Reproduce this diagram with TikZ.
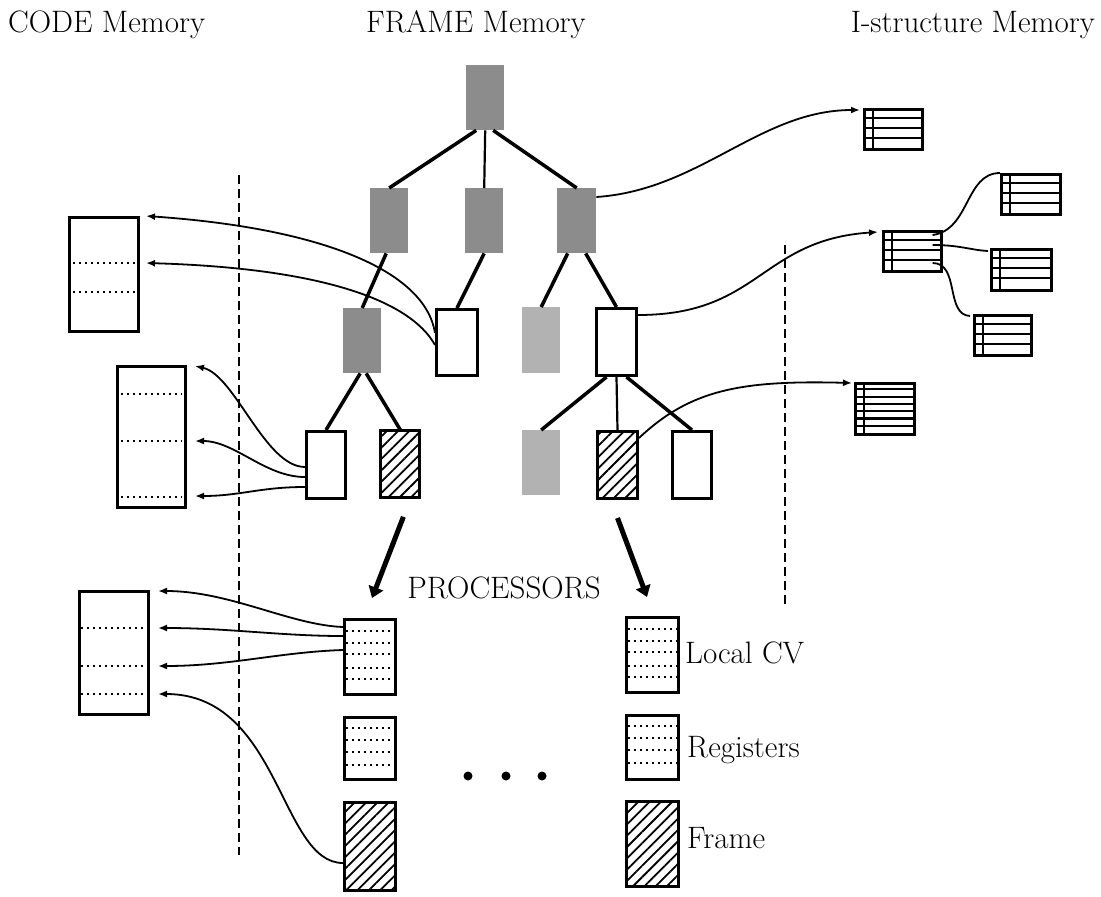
\documentclass[tikz,border=0pt]{standalone}
\usepackage{fontspec}
\usetikzlibrary{arrows.meta,patterns.meta,calc}
\newcommand\IStruct[7]{% name, x, y, width, height, number of inner lines, row height
  \node[wbox, line width=2.6pt, anchor=north west, minimum width=#4pt, minimum height=#5pt] (#1) at (#2,#3) {};
  \draw[line width=2.2pt] ($(#1.north west)+(10,0)$) -- ($(#1.south west)+(10,0)$);
  \foreach \k in {1,...,#6} \draw[line width=2.2pt] ($(#1.north west)+(0,\k*#7)$) -- ($(#1.north east)+(0,\k*#7)$);
}
\begin{document}
\begin{tikzpicture}[x=1pt,y=-1pt,
  lbl/.style={font=\fontsize{31}{33}\selectfont, inner sep=0},
  shadebox/.style={fill=black!45, inner sep=0, anchor=north west},
  lshadebox/.style={fill=black!30, inner sep=0, anchor=north west},
  wbox/.style={draw, line width=3pt, fill=white, inner sep=0, anchor=north west},
  hbox/.style={draw, line width=3pt, inner sep=0, anchor=north west, pattern={Lines[angle=45,distance=8pt,line width=1.8pt]}},
  tree/.style={line width=3.5pt},
  thintree/.style={line width=2.2pt},
  ptr/.style={line width=1.8pt, -{Latex[length=9pt,width=7pt]}},
  link/.style={line width=1.8pt},
  sepline/.style={line width=2pt, dash pattern=on 9pt off 5pt},
  dotrow/.style={line width=2pt, dash pattern=on 2pt off 4pt},
  bigarrow/.style={line width=5pt, -{Triangle[length=11pt,width=15pt]}},
]
\fill[white] (0,0) rectangle (1101,897);
\useasboundingbox (0,0) rectangle (1101,897);

% headers
\node[lbl, anchor=base west] (hcode) at (8,32) {CODE Memory};
\node[lbl, anchor=base] (hframe) at (476,32) {FRAME Memory};
\node[lbl, anchor=base east] (hist) at (1095,32) {I-structure Memory};

% separators
\draw[sepline] (239,175) -- (239,855);
\draw[sepline] (785,245) -- (785,605);

% frame tree
\node[shadebox, minimum width=38pt, minimum height=65pt] (rt) at (466,65) {};
\node[shadebox, minimum width=38pt, minimum height=65pt] (l2a) at (370,188) {};
\node[shadebox, minimum width=38pt, minimum height=65pt] (l2b) at (465,188) {};
\node[shadebox, minimum width=39pt, minimum height=65pt] (l2c) at (557,188) {};
\node[shadebox, minimum width=38pt, minimum height=65pt] (l3a) at (343,308) {};
\node[wbox, minimum width=41pt, minimum height=66pt] (A) at (435,308) {};
\node[lshadebox, minimum width=38pt, minimum height=66pt] (l3c) at (522,307) {};
\node[wbox, minimum width=40pt, minimum height=67pt] (B) at (595,307) {};
\node[wbox, minimum width=39pt, minimum height=67pt] (C) at (305,430) {};
\node[hbox, minimum width=39pt, minimum height=67pt] (D) at (380,430) {};
\node[lshadebox, minimum width=38pt, minimum height=65pt] (E) at (522,430) {};
\node[hbox, minimum width=40pt, minimum height=67pt] (F) at (596,430) {};
\node[wbox, minimum width=39pt, minimum height=67pt] (G) at (671,430) {};

\draw[tree] ($(rt.south)+(-9,0)$) -- (l2a.north);
\draw[thintree] (rt.south) -- (l2b.north);
\draw[tree] ($(rt.south)+(8,0)$) -- (l2c.north);
\draw[tree] ($(l2a.south)+(-3,0)$) -- (l3a.north);
\draw[tree] (l2b.south) -- (A.north);
\draw[tree] ($(l2c.south)+(-9,0)$) -- (l3c.north);
\draw[tree] ($(l2c.south)+(9,0)$) -- (B.north);
\draw[tree] ($(l3a.south)+(-2,0)$) -- (C.north);
\draw[tree] ($(l3a.south)+(4,0)$) -- (D.north);
\draw[tree] ($(B.south)+(-10,0)$) -- (E.north);
\draw[thintree] (B.south) -- (F.north);
\draw[tree] ($(B.south)+(10,0)$) -- (G.north);

% code memory boxes
\node[wbox, minimum width=69pt, minimum height=114pt] (cb1) at (68,216) {};
\draw[dotrow] ($(cb1.north west)+(5,47)$) -- ($(cb1.north east)+(-5,47)$);
\draw[dotrow] ($(cb1.north west)+(5,76)$) -- ($(cb1.north east)+(-5,76)$);
\node[wbox, minimum width=68pt, minimum height=141pt] (cb2) at (116,365) {};
\draw[dotrow] ($(cb2.north west)+(5,29)$) -- ($(cb2.north east)+(-5,29)$);
\draw[dotrow] ($(cb2.north west)+(5,76)$) -- ($(cb2.north east)+(-5,76)$);
\draw[dotrow] ($(cb2.north west)+(5,132)$) -- ($(cb2.north east)+(-5,132)$);
\node[wbox, minimum width=69pt, minimum height=123pt] (cb3) at (78,590) {};
\draw[dotrow] ($(cb3.north west)+(3,38)$) -- ($(cb3.north east)+(-5,38)$);
\draw[dotrow] ($(cb3.north west)+(3,76)$) -- ($(cb3.north east)+(-5,76)$);
\draw[dotrow] ($(cb3.north west)+(3,104)$) -- ($(cb3.north east)+(-5,104)$);

% pointers to code memory
\draw[ptr] ($(A.north west)+(0,25)$) .. controls (425,270) and (320,228) .. ($(cb1.north east)+(6,0)$);
\draw[ptr] ($(A.north west)+(0,37)$) .. controls (410,300) and (320,268) .. ($(cb1.north east)+(6,47)$);
\draw[ptr] ($(C.north west)+(0,37)$) .. controls (265,467) and (235,375) .. ($(cb2.north east)+(8,1)$);
\draw[ptr] ($(C.north west)+(0,47)$) .. controls (265,477) and (235,441) .. ($(cb2.north east)+(8,76)$);
\draw[ptr] ($(C.north west)+(0,57)$) .. controls (260,487) and (240,496) .. ($(cb2.north east)+(8,131)$);

% I-structure memory
\IStruct{is1}{863}{108}{58}{40}{3}{10}
\IStruct{is2}{882}{230}{58}{40}{3}{10}
\IStruct{is3}{1000}{173}{59}{40}{3}{10}
\IStruct{is4}{990}{248}{60}{41}{3}{10}
\IStruct{is5}{973}{314}{57}{40}{3}{10}
\IStruct{is6}{854}{382}{59}{51}{6}{7.3}

\draw[ptr] ($(l2c.north east)+(0,9)$) .. controls (700,190) and (760,110) .. ($(is1.north west)+(-3,2)$);
\draw[ptr] ($(B.north east)+(0,8)$) .. controls (760,315) and (760,240) .. ($(is2.north west)+(-4,2)$);
\draw[ptr] ($(F.north east)+(0,8)$) .. controls (690,390) and (740,380) .. ($(is6.north west)+(-2,1)$);
\draw[link] ($(is2.north east)+(-10,5)$) .. controls (970,230) and (965,173) .. (is3.north west);
\draw[link] ($(is2.north east)+(-10,15)$) .. controls (960,245) and (970,250) .. ($(is4.north west)+(-2,3)$);
\draw[link] ($(is2.north east)+(-10,33)$) .. controls (960,263) and (945,315) .. ($(is5.north west)+(-3,2)$);

% processors
\coordinate (pa) at (372,598);
\coordinate (pb) at (647,597);
\draw[bigarrow] ($(D.south)+(3,18)$) -- (pa);
\draw[bigarrow] ($(F.south)+(0,18)$) -- (pb);
\node[lbl, anchor=base] (proc) at (504,598) {PROCESSORS};

\node[wbox, minimum width=51pt, minimum height=75pt] (pl1) at (343,618) {};
\foreach \d in {13,25,36,50,61} \draw[dotrow] ($(pl1.north west)+(3,\d)$) -- ($(pl1.north east)+(-3,\d)$);
\node[wbox, minimum width=51pt, minimum height=62pt] (pl2) at (343,716) {};
\foreach \d in {12,24,36,49} \draw[dotrow] ($(pl2.north west)+(3,\d)$) -- ($(pl2.north east)+(-3,\d)$);
\node[hbox, minimum width=51pt, minimum height=88pt] (pl3) at (343,801) {};

\node[wbox, minimum width=52pt, minimum height=75pt] (pr1) at (625,616) {};
\foreach \d in {13,25,36,50,61} \draw[dotrow] ($(pr1.north west)+(3,\d)$) -- ($(pr1.north east)+(-3,\d)$);
\node[wbox, minimum width=52pt, minimum height=64pt] (pr2) at (625,714) {};
\foreach \d in {12,24,36,49} \draw[dotrow] ($(pr2.north west)+(3,\d)$) -- ($(pr2.north east)+(-3,\d)$);
\node[hbox, minimum width=52pt, minimum height=85pt] (pr3) at (625,800) {};

\node[lbl, anchor=base west] (tlcv) at (685,663) {Local CV};
\node[lbl, anchor=base west] (treg) at (687,757) {Registers};
\node[lbl, anchor=base west] (tfr) at (687,848) {Frame};

\node[circle, fill, inner sep=0, minimum size=9pt] (d1) at (468,776) {};
\node[circle, fill, inner sep=0, minimum size=9pt] (d2) at (506,776) {};
\node[circle, fill, inner sep=0, minimum size=9pt] (d3) at (542,776) {};

\draw[ptr] ($(pl1.north west)+(0,9)$) .. controls (290,625) and (230,591) .. ($(cb3.north east)+(8,1)$);
\draw[ptr] ($(pl1.north west)+(0,18)$) .. controls (280,636) and (230,628) .. ($(cb3.north east)+(8,38)$);
\draw[ptr] ($(pl1.north west)+(0,32)$) .. controls (280,652) and (230,666) .. ($(cb3.north east)+(8,76)$);
\draw[ptr] ($(pl3.north west)+(0,62)$) .. controls (280,863) and (280,694) .. ($(cb3.north east)+(8,104)$);
\end{tikzpicture}
\end{document}
